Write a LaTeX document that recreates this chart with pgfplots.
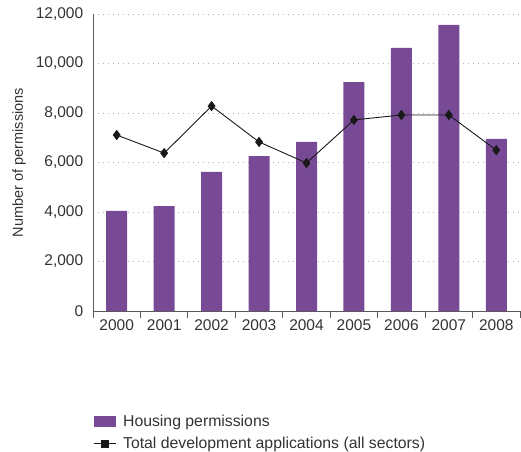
\documentclass[border=0pt]{standalone}
\usepackage{pgfplots}
\pgfplotsset{compat=1.18}
\usepackage{fontspec}
\setmainfont{Liberation Sans}
\definecolor{barpurple}{RGB}{120,74,150}
\definecolor{axisgray}{RGB}{90,90,90}
\begin{document}
\begin{tikzpicture}
\useasboundingbox (-93pt,-140pt) rectangle (428pt,311pt);
\begin{axis}[
  scale only axis,
  width=427pt, height=297pt,
  xmin=-0.5, xmax=8.5,
  ymin=0, ymax=12000,
  xtick={0,...,8},
  xticklabels={2000,2001,2002,2003,2004,2005,2006,2007,2008},
  minor xtick={-0.5,0.5,...,8.5},
  major x tick style={draw=none},
  minor x tick style={draw=axisgray, line width=0.8pt},
  minor tick length=7pt,
  tick align=outside,
  xtick pos=bottom,
  ytick={0,2000,...,12000},
  ytick pos=left,
  major y tick style={draw=none},
  axis x line*=bottom,
  axis y line*=left,
  axis line style={draw=axisgray, line width=0.8pt},
  ymajorgrids,
  grid style={dash pattern=on 1pt off 4pt, gray!60, line width=0.9pt},
  /pgf/number format/assume math mode=true,
  /pgf/number format/1000 sep={,},
  scaled y ticks=false,
  ticklabel style={font=\fontsize{15.5}{17}\selectfont, text=black!80},
  yticklabel style={xshift=-2pt},
  xticklabel style={yshift=-1pt},
  ylabel={Number of permissions},
  ylabel style={font=\fontsize{14.5}{16}\selectfont, text=black!80},
  ylabel shift=3pt,
  legend style={at={(0,0)}, anchor=north west, xshift=-3pt, yshift=-100pt, draw=none, fill=none,
    font=\fontsize{15.8}{17}\selectfont, text=black!80, row sep=5pt, column sep=5pt, cells={anchor=west}},
  legend cell align=left,
]
\addplot[ybar, bar width=21pt, fill=barpurple, draw=none,
  legend image code/.code={\fill[barpurple] (0pt,-5.5pt) rectangle (22pt,5.5pt);}]
  coordinates {(0,4050) (1,4240) (2,5620) (3,6260) (4,6830) (5,9250) (6,10630) (7,11560) (8,6950)};
\addlegendentry{Housing permissions}
\addplot[black!90, line width=0.9pt, mark=diamond*, mark size=4.5pt, mark options={fill=black!90},
  legend image code/.code={\draw[black!90, line width=0.9pt] (0pt,0pt) -- (22pt,0pt); \fill[black!90] (7.5pt,-3.5pt) rectangle (14.5pt,3.5pt);}]
  coordinates {(0,7110) (1,6380) (2,8280) (3,6830) (4,5980) (5,7720) (6,7920) (7,7920) (8,6500)};
\addlegendentry{Total development applications (all sectors)}
\end{axis}
\end{tikzpicture}
\end{document}
